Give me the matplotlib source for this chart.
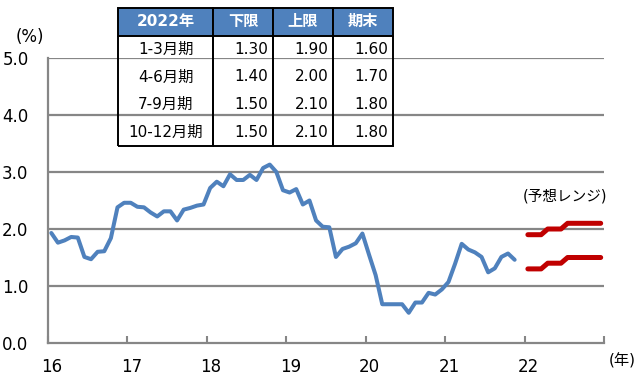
import numpy as np
import matplotlib
matplotlib.use("Agg")
import matplotlib.pyplot as plt

plt.rcParams["font.family"] = ["DejaVu Sans", "Noto Sans CJK JP"]

# monthly actuals, Jan 2016 - Nov 2021 (%)
rate_2016 = [1.93, 1.76, 1.80, 1.86, 1.85, 1.51, 1.47, 1.60, 1.61, 1.84, 2.38, 2.46]
rate_2017 = [2.46, 2.39, 2.38, 2.29, 2.22, 2.31, 2.31, 2.15, 2.34, 2.37, 2.41, 2.43]
rate_2018 = [2.72, 2.83, 2.75, 2.96, 2.86, 2.86, 2.95, 2.86, 3.07, 3.13, 3.00, 2.68]
rate_2019 = [2.64, 2.70, 2.43, 2.50, 2.15, 2.04, 2.03, 1.51, 1.65, 1.69, 1.75, 1.92]
rate_2020 = [1.55, 1.19, 0.68, 0.68, 0.68, 0.68, 0.53, 0.71, 0.71, 0.88, 0.85, 0.94]
rate_2021 = [1.07, 1.39, 1.74, 1.64, 1.59, 1.51, 1.24, 1.31, 1.51, 1.57, 1.46]

# 2022 forecast table
quarters = ["1-3月期", "4-6月期", "7-9月期", "10-12月期"]
lower_q = [1.30, 1.40, 1.50, 1.50]
upper_q = [1.90, 2.00, 2.10, 2.10]
end_q = [1.60, 1.70, 1.80, 1.80]
header = ["2022年", "下限", "上限", "期末"]

year_labels = ["16", "17", "18", "19", "20", "21", "22"]
y_ticks = [0, 1, 2, 3, 4, 5]

actual = rate_2016 + rate_2017 + rate_2018 + rate_2019 + rate_2020 + rate_2021
x_act = 16 + (np.arange(len(actual)) + 0.5) / 12
lower_m = np.repeat(lower_q, 3)
upper_m = np.repeat(upper_q, 3)
x_fc = 22 + (np.arange(12) + 0.5) / 12

grey = "#868686"
fig = plt.figure(figsize=(6.4, 3.77), dpi=100)
ax = fig.add_axes([48 / 640, 1 - 343 / 377, 556 / 640, 285 / 377])

ax.plot(x_act, actual, color="#4F81BD", lw=2.9, solid_capstyle="round", solid_joinstyle="round", zorder=3)
ax.plot(x_fc, upper_m, color="#C00000", lw=3.6, solid_capstyle="round", solid_joinstyle="round", zorder=3)
ax.plot(x_fc, lower_m, color="#C00000", lw=3.6, solid_capstyle="round", solid_joinstyle="round", zorder=3)

ax.set_xlim(16, 23)
ax.set_ylim(0, 5)
ax.set_yticks(y_ticks)
ax.set_yticklabels([f"{v:.1f}" for v in y_ticks], fontsize=12)
ax.tick_params(axis="y", length=0, pad=14)
for v in y_ticks[1:]:
    ax.axhline(v, color=grey, lw=1.6, zorder=1)

ax.set_xticks(range(16, 24))
ax.set_xticklabels([])
ax.tick_params(axis="x", which="major", direction="in", length=5, width=1.5, color=grey)
ax.set_xticks([int(s) + 0.05 for s in year_labels], minor=True)
ax.set_xticklabels(year_labels, minor=True, fontsize=12)
ax.tick_params(axis="x", which="minor", length=0, pad=11)

for s in ["top", "right"]:
    ax.spines[s].set_visible(False)
for s in ["left", "bottom"]:
    ax.spines[s].set_color(grey)
    ax.spines[s].set_linewidth(1.6)

fig.text(30 / 640, 1 - 37 / 377, "(%)", fontsize=12, ha="center", va="center")
fig.text(622 / 640, 1 - 361 / 377, "(年)", fontsize=11, ha="center", va="center")
fig.text(607 / 640, 1 - 196 / 377, "(予想レンジ)", fontsize=10.5, ha="right", va="center")

# forecast table
tax = fig.add_axes([118 / 640, 1 - 146 / 377, 275 / 640, 138 / 377], zorder=5)
tax.axis("off")
cells = [[q, f"{lo:.2f}", f"{hi:.2f}", f"{e:.2f}"] for q, lo, hi, e in zip(quarters, lower_q, upper_q, end_q)]
tbl = tax.table(cellText=cells, colLabels=header, bbox=[0, 0, 1, 1],
                colWidths=[95, 60, 60, 60], cellLoc="right")
tbl.auto_set_font_size(False)
nrows = len(cells)
for (r, c), cell in tbl.get_celld().items():
    cell.set_edgecolor("black")
    cell.set_linewidth(1.4)
    cell.set_text_props(fontsize=11)
    if r == 0:
        cell.set_facecolor("#4F81BD")
        cell.set_text_props(color="white", fontweight="bold", ha="center")
        cell._loc = "center"
    else:
        cell.set_facecolor("white")
        cell.visible_edges = "LRB" if r == nrows else "LR"
        if c == 0:
            cell._loc = "center"
            cell.get_text().set_ha("center")
        cell.PAD = 0.08

fig.savefig("out.png", dpi=100)
